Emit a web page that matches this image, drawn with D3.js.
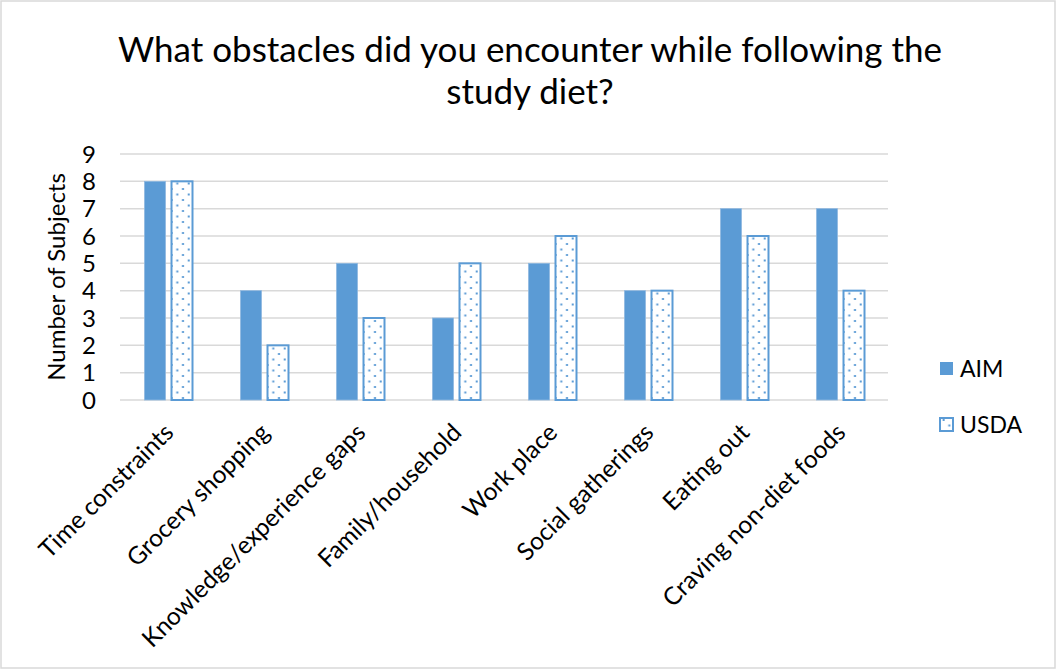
<!DOCTYPE html>
<html>
<head>
<meta charset="utf-8">
<script src="https://cdn.jsdelivr.net/npm/d3@7"></script>
<style>
  body { margin: 0; background: #fff; }
  text { font-family: Lato, "Open Sans", sans-serif; fill: #000; }
</style>
</head>
<body>
<div id="chart"></div>
<script>
// data
const categories = ['Time constraints', 'Grocery shopping', 'Knowledge/experience gaps',
  'Family/household', 'Work place', 'Social gatherings', 'Eating out', 'Craving non-diet foods'];
const aimValues = [8, 4, 5, 3, 5, 4, 7, 7];
const usdaValues = [8, 2, 3, 5, 6, 4, 6, 4];
const seriesNames = ['AIM', 'USDA'];
const yTicks = [0, 1, 2, 3, 4, 5, 6, 7, 8, 9];

const W = 1059, H = 669;
const blue = '#5B9BD5';
const margin = { left: 120, right: 171, top: 154, bottom: 269 };

const svg = d3.select('#chart').append('svg')
  .attr('width', W).attr('height', H);

// outer frame
svg.append('rect')
  .attr('x', 1).attr('y', 1).attr('width', W - 5).attr('height', H - 2)
  .attr('fill', '#fff').attr('stroke', '#d9d9d9').attr('stroke-width', 1.5);

// dotted pattern for USDA
const defs = svg.append('defs');
const pat = defs.append('pattern')
  .attr('id', 'dots').attr('patternUnits', 'userSpaceOnUse')
  .attr('width', 11.4).attr('height', 11);
pat.append('rect').attr('width', 11.4).attr('height', 11).attr('fill', '#fff');
pat.append('rect').attr('x', 2.6).attr('y', 1).attr('width', 2).attr('height', 2).attr('fill', blue);
pat.append('rect').attr('x', 8.3).attr('y', 6.5).attr('width', 2).attr('height', 2).attr('fill', blue);

const x = d3.scaleBand().domain(categories).range([margin.left, W - margin.right]);
const y = d3.scaleLinear().domain([0, 9]).range([H - margin.bottom, margin.top]);

// gridlines
svg.append('g').selectAll('line').data(yTicks).join('line')
  .attr('x1', margin.left).attr('x2', W - margin.right)
  .attr('y1', d => y(d)).attr('y2', d => y(d))
  .attr('stroke', '#d9d9d9').attr('stroke-width', 1.5);

// y tick labels
svg.append('g').selectAll('text').data(yTicks).join('text')
  .attr('x', 96).attr('y', d => y(d))
  .attr('dy', '0.36em')
  .attr('text-anchor', 'end')
  .style('font-size', '24px')
  .text(d => d);

// y axis title
svg.append('text')
  .attr('transform', `translate(65,${y(4.5)}) rotate(-90)`)
  .attr('text-anchor', 'middle')
  .style('font-size', '24px')
  .text('Number of Subjects');

// bars
const barW = 21;
const gap = 5;
const groups = svg.append('g').selectAll('g').data(categories).join('g')
  .attr('transform', d => `translate(${x(d) + x.bandwidth() / 2},0)`);

groups.append('rect')
  .attr('x', -barW - gap / 2)
  .attr('y', (d, i) => y(aimValues[i]))
  .attr('width', barW)
  .attr('height', (d, i) => y(0) - y(aimValues[i]))
  .attr('fill', blue)
  .attr('stroke', '#8fb8e0').attr('stroke-width', 0.8);

groups.append('rect')
  .attr('x', gap / 2 + 1)
  .attr('y', (d, i) => y(usdaValues[i]))
  .attr('width', barW)
  .attr('height', (d, i) => y(0) - y(usdaValues[i]))
  .attr('fill', 'url(#dots)')
  .attr('stroke', blue).attr('stroke-width', 2);

// x labels rotated
svg.append('g').selectAll('text').data(categories).join('text')
  .attr('transform', d => `translate(${x(d) + x.bandwidth() / 2 + 7},${y(0) + 34}) rotate(-45)`)
  .attr('text-anchor', 'end')
  .style('font-size', '24.5px')
  .text(d => d);

// title
const title = svg.append('text')
  .attr('x', 530).attr('text-anchor', 'middle')
  .style('font-size', '35px');
title.append('tspan').attr('x', 530).attr('y', 62).text('What obstacles did you encounter while following the');
title.append('tspan').attr('x', 530).attr('y', 104).text('study diet?');

// legend
const legend = svg.append('g').selectAll('g').data(seriesNames).join('g')
  .attr('transform', (d, i) => `translate(940,${362 + i * 56})`);
legend.append('rect')
  .attr('width', 13).attr('height', 13)
  .attr('fill', (d, i) => i === 0 ? blue : 'url(#dots)')
  .attr('stroke', blue).attr('stroke-width', (d, i) => i === 0 ? 0 : 2);
legend.append('text')
  .attr('x', 20).attr('y', 7).attr('dy', '0.36em')
  .style('font-size', '23px')
  .text(d => d);
</script>
</body>
</html>
